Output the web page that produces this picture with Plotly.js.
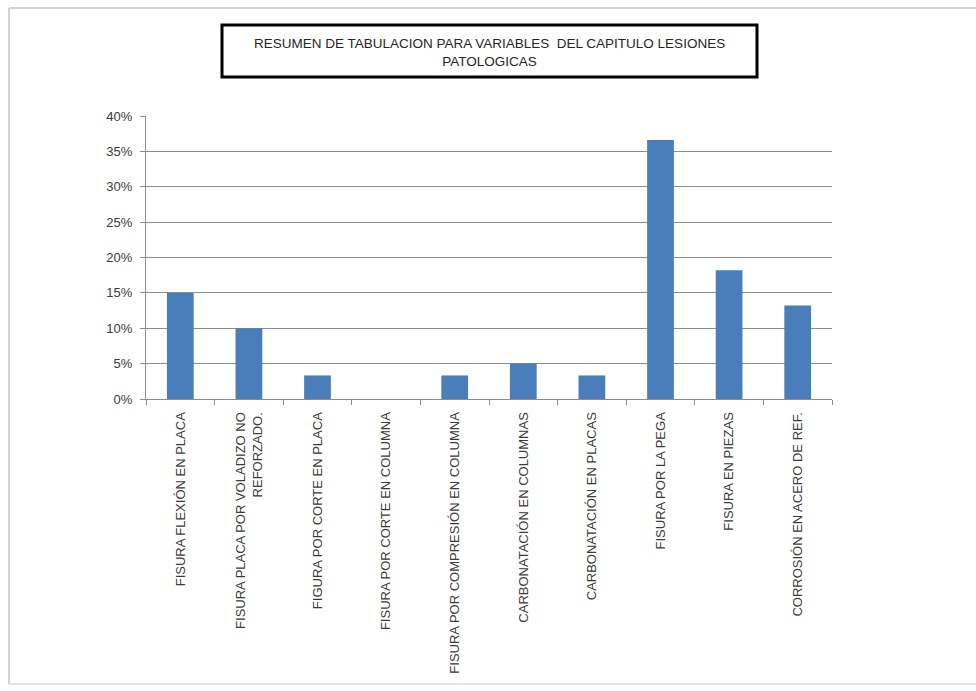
<!DOCTYPE html>
<html>
<head>
<meta charset="utf-8">
<script src="https://cdn.plot.ly/plotly-3.0.1.min.js"></script>
<style>
  html, body { margin: 0; padding: 0; background: #ffffff; }
  #chart { width: 976px; height: 691px; }
</style>
</head>
<body>
<div id="chart"></div>
<script>
// Data
const categories = [
  "FISURA FLEXIÓN EN PLACA",
  "FISURA PLACA POR VOLADIZO NO<br>REFORZADO.",
  "FIGURA POR CORTE EN PLACA",
  "FISURA POR CORTE EN COLUMNA",
  "FISURA POR COMPRESIÓN EN COLUMNA",
  "CARBONATACIÓN EN COLUMNAS",
  "CARBONATACIÓN EN PLACAS",
  "FISURA POR LA PEGA",
  "FISURA EN PIEZAS",
  "CORROSIÓN EN ACERO DE REF."
];
const values = [0.15, 0.10, 0.0333, 0, 0.0333, 0.05, 0.0333, 0.366, 0.182, 0.132];
const yTickValues = [0, 0.05, 0.10, 0.15, 0.20, 0.25, 0.30, 0.35, 0.40];
const yTickLabels = ["0%", "5%", "10%", "15%", "20%", "25%", "30%", "35%", "40%"];
const chartTitle = "RESUMEN DE TABULACION PARA VARIABLES  DEL CAPITULO LESIONES<br>PATOLOGICAS";

// Layout geometry (pixels of the 976x691 canvas)
const W = 976, H = 691;
const plotL = 146, plotR = 832, plotT = 116, plotB = 399;
const px = x => (x - plotL) / (plotR - plotL);
const py = y => (plotB - y) / (plotB - plotT);

const font = { family: "Liberation Sans, Arial, sans-serif", size: 13, color: "#3a3a3a" };

const trace = {
  type: "bar",
  x: categories,
  y: values,
  marker: { color: "#4a7ebb", line: { width: 0 } },
  hoverinfo: "skip"
};

const layout = {
  width: W,
  height: H,
  margin: { l: plotL, r: W - plotR, t: plotT, b: H - plotB, pad: 0 },
  paper_bgcolor: "#ffffff",
  plot_bgcolor: "#ffffff",
  font: font,
  showlegend: false,
  bargap: 0.61,
  xaxis: {
    type: "category",
    tickangle: -90,
    tickson: "boundaries",
    ticks: "outside",
    ticklen: 5,
    tickcolor: "#8c8c8c",
    ticklabelstandoff: 7,
    showline: true,
    linecolor: "#8c8c8c",
    linewidth: 1,
    showgrid: false,
    zeroline: false,
    tickfont: font,
    automargin: false,
    fixedrange: true
  },
  yaxis: {
    range: [0, 0.4],
    tickvals: yTickValues,
    ticktext: yTickLabels,
    ticks: "outside",
    ticklen: 5,
    tickcolor: "#8c8c8c",
    ticklabelstandoff: 5,
    showline: true,
    linecolor: "#8c8c8c",
    linewidth: 1,
    showgrid: true,
    gridcolor: "#8c8c8c",
    gridwidth: 1,
    zeroline: false,
    tickfont: font,
    automargin: false,
    fixedrange: true
  },
  shapes: [
    // outer frame (top, left, bottom)
    { type: "line", xref: "paper", yref: "paper", x0: px(9), x1: px(976), y0: py(8), y1: py(8),
      line: { color: "#d3d3d3", width: 2 } },
    { type: "line", xref: "paper", yref: "paper", x0: px(9), x1: px(9), y0: py(8), y1: py(684),
      line: { color: "#d3d3d3", width: 2 } },
    { type: "line", xref: "paper", yref: "paper", x0: px(9), x1: px(976), y0: py(684), y1: py(684),
      line: { color: "#e6e6e6", width: 2 } },
    // title box
    { type: "rect", xref: "paper", yref: "paper", x0: px(222), x1: px(757), y0: py(77), y1: py(25),
      line: { color: "#000000", width: 3 }, fillcolor: "rgba(0,0,0,0)" }
  ],
  annotations: [
    { xref: "paper", yref: "paper", x: px(489.5), y: py(52.5), xanchor: "center", yanchor: "middle",
      text: chartTitle, showarrow: false, align: "center",
      font: { family: "Liberation Sans, Arial, sans-serif", size: 13.5, color: "#262626" } }
  ]
};

Plotly.newPlot("chart", [trace], layout, { displayModeBar: false, staticPlot: true });
</script>
</body>
</html>
